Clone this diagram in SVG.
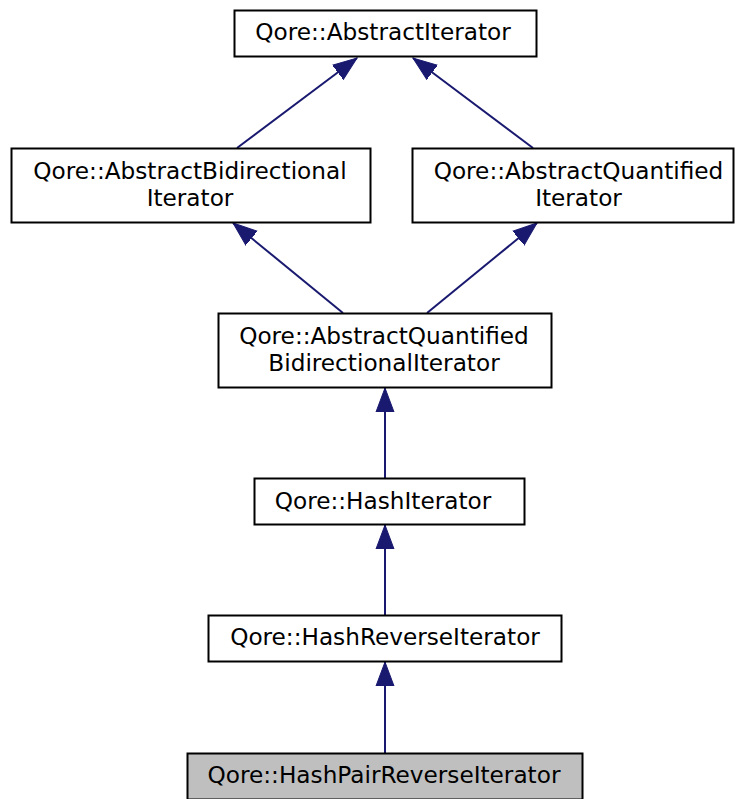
<svg xmlns="http://www.w3.org/2000/svg" width="735" height="799" viewBox="0 0 735 799">
  <style>
    .node rect { fill: #ffffff; stroke: #000000; stroke-width: 2; }
    .node.current rect { fill: #bfbfbf; }
    .node text { font-family: "DejaVu Sans", "Liberation Sans", sans-serif; font-size: 23.2px; fill: #000000; text-anchor: middle; }
    .edge { stroke: #191970; stroke-width: 2; fill: none; marker-end: url(#arrow); }
  </style>
  <defs>
    <marker id="arrow" markerUnits="userSpaceOnUse" markerWidth="26" markerHeight="22" viewBox="0 -11 26 22" refX="24" refY="0" orient="auto">
      <polygon points="0,-9 24,0 0,9" fill="#191970" stroke="#191970" stroke-width="1"/>
    </marker>
  </defs>

  <!-- inheritance connectors -->
  <g id="edges">
    <line class="edge" x1="237" y1="148" x2="357" y2="58"/>
    <line class="edge" x1="533" y1="148" x2="413" y2="58"/>
    <line class="edge" x1="343" y1="313" x2="233" y2="223"/>
    <line class="edge" x1="427" y1="313" x2="537" y2="223"/>
    <line class="edge" x1="385" y1="478" x2="385" y2="388"/>
    <line class="edge" x1="385" y1="615" x2="385" y2="525"/>
    <line class="edge" x1="385" y1="753" x2="385" y2="662"/>
  </g>

  <g id="node-AbstractIterator" class="node">
    <rect x="234.5" y="10.5" width="302" height="46"/>
    <text x="383" y="40">Qore::AbstractIterator</text>
  </g>

  <g id="node-AbstractBidirectionalIterator" class="node">
    <rect x="11.5" y="148.5" width="359" height="74"/>
    <text x="190" y="179">Qore::AbstractBidirectional</text>
    <text x="190" y="206">Iterator</text>
  </g>

  <g id="node-AbstractQuantifiedIterator" class="node">
    <rect x="412.5" y="148.5" width="321" height="74"/>
    <text x="578.5" y="179">Qore::AbstractQuantified</text>
    <text x="578.5" y="206">Iterator</text>
  </g>

  <g id="node-AbstractQuantifiedBidirectionalIterator" class="node">
    <rect x="218.5" y="313.5" width="333" height="74"/>
    <text x="384" y="344">Qore::AbstractQuantified</text>
    <text x="384" y="371">BidirectionalIterator</text>
  </g>

  <g id="node-HashIterator" class="node">
    <rect x="254.5" y="478.5" width="270" height="46"/>
    <text x="383" y="509">Qore::HashIterator</text>
  </g>

  <g id="node-HashReverseIterator" class="node">
    <rect x="208.5" y="615.5" width="353" height="46"/>
    <text x="385" y="645">Qore::HashReverseIterator</text>
  </g>

  <g id="node-HashPairReverseIterator" class="node current">
    <rect x="187.5" y="753.5" width="395" height="46"/>
    <text x="384" y="783">Qore::HashPairReverseIterator</text>
  </g>
</svg>
